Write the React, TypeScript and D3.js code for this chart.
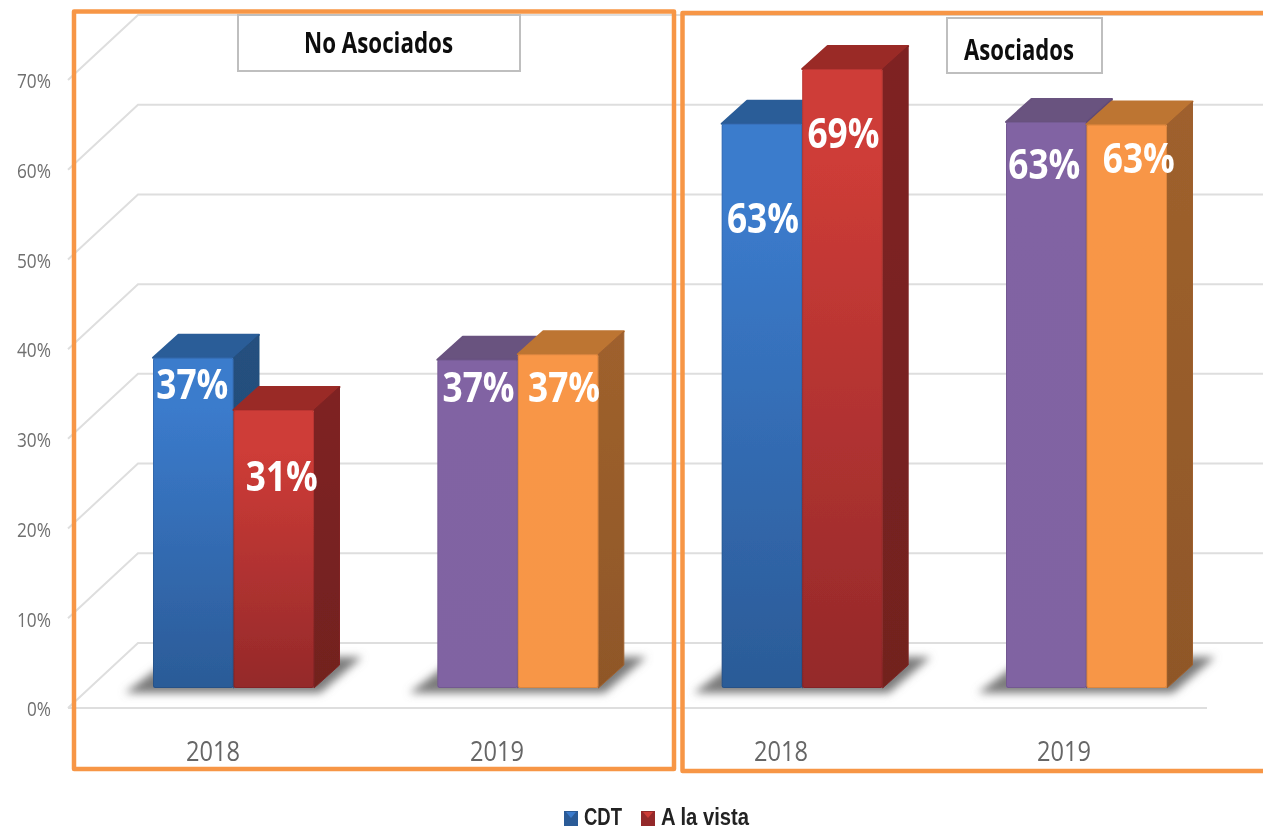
import React from "react";
import * as d3 from "d3";

const groups = ["No Asociados 2018", "No Asociados 2019", "Asociados 2018", "Asociados 2019"];
const yearLabels = ["2018", "2019", "2018", "2019"];
const seriesNames = ["CDT", "A la vista"];
const cdtValues = [36.8, 36.6, 62.9, 63.1];
const aLaVistaValues = [31, 37.2, 69, 62.8];
const cdtLabels = ["37%", "37%", "63%", "63%"];
const aLaVistaLabels = ["31%", "37%", "69%", "63%"];
const yTicks = [0, 10, 20, 30, 40, 50, 60, 70];
const panelTitles = ["No Asociados", "Asociados"];

// layout only
const FONT = "'Open Sans','Noto Sans',sans-serif";
const W = 1263, H = 831;
const y = d3.scaleLinear().domain([0, 70]).range([708, 80]);
const x = d3.scalePoint<string>().domain(groups).range([233.5, 1086.5]);
const inner = d3.scaleBand<string>().domain(seriesNames).range([-80.5, 80.5]);
const BAR_LIFT = 20, DX = 25.5, DY = 23;
const BACK_DX = 70, BACK_DY = 65;
const palette = [
  [{ top: "#2c5d98", side: "#25507f", a: "#3b7bcc", b: "#2b5b97", id: "b" }, { top: "#9a2b28", side: "#7f2422", a: "#ce3c37", b: "#94292a", id: "r" }],
  [{ top: "#69527f", side: "#5f4a75", a: "#8164a3", b: "#8064a2", id: "p" }, { top: "#bd7432", side: "#9f612d", a: "#f89646", b: "#f79646", id: "o" }],
];
const labelNudge = [
  [[-1, 28], [8, 68]],
  [[1, 29], [6, 35]],
  [[1, 96], [1, 66]],
  [[-2, 44], [12, 35]],
];
const yearCentres = [213, 497, 781, 1064];

function Fit(p: any) {
  const { len, children, ...rest } = p;
  return (
    <text textLength={len} lengthAdjust="spacingAndGlyphs" dominantBaseline="middle" fontFamily={FONT} {...rest}>
      {children}
    </text>
  );
}

export default function App() {
  return (
    <svg width={W} height={H} viewBox={`0 0 ${W} ${H}`} style={{ position: "absolute", left: 0, top: 0, background: "#fff" }}>
      <defs>
        <filter id="sh" x="-30%" y="-80%" width="160%" height="260%"><feGaussianBlur stdDeviation="4.5" /></filter>
        <filter id="soft" x="-5%" y="-20%" width="110%" height="140%"><feGaussianBlur stdDeviation="0.45" /></filter>
        <filter id="barSoft" x="-5%" y="-5%" width="110%" height="110%"><feGaussianBlur stdDeviation="0.6" /></filter>
        {palette.flat().map((c) => (
          <linearGradient key={c.id} id={"g" + c.id} x1="0" x2="0" y1="0" y2="1" gradientUnits="objectBoundingBox">
            <stop offset="0.15" stopColor={c.a} />
            <stop offset="1" stopColor={c.b} />
          </linearGradient>
        ))}
        {palette.flat().map((c) => (
          <linearGradient key={c.id} id={"s" + c.id} x1="0" x2="0" y1="0" y2="1">
            <stop offset="0" stopColor={c.side} />
            <stop offset="1" stopColor={d3.color(c.side)!.darker(0.3).formatHex()} />
          </linearGradient>
        ))}
      </defs>

      {/* grid */}
      <g fill="none" stroke="#dedede" strokeWidth={2}>
        {yTicks.map((t) => (
          <polyline key={t} points={`68,${y(t)} ${68 + BACK_DX},${y(t) - BACK_DY} ${W},${y(t) - BACK_DY}`} />
        ))}
        <line x1={68} x2={1207} y1={y(0)} y2={y(0)} />
      </g>

      {/* y labels */}
      <g filter="url(#soft)">
        {yTicks.map((t) => (
          <Fit key={t} x={t === 0 ? 27 : 17} y={y(t) + 3} len={t === 0 ? 24 : 34} fontSize={20} fill="#6f6f6f">{t}%</Fit>
        ))}
      </g>

      {/* bars */}
      {groups.map((g, gi) => {
        const cx = x(g)!;
        const bw = inner.bandwidth();
        const base = y(0) - BAR_LIFT;
        const L = cx - 80.5, R = cx + 80.5;
        const isAlt = gi % 2 === 1 ? 1 : 0;
        return (
          <g key={g}>
            <polygon points={`${L - 28},${base + 5} ${R + 6},${base + 5} ${R + 48},${base - 31} ${L + 20},${base - 31}`} fill="#7a7a7a" filter="url(#sh)" />
            <g filter="url(#barSoft)">
              {seriesNames.map((s, si) => {
                const v = (si === 0 ? cdtValues : aLaVistaValues)[gi];
                const c = palette[isAlt][si];
                const x0 = cx + inner(s)!;
                const x1 = x0 + bw;
                const top = y(v) - BAR_LIFT;
                return (
                  <g key={s}>
                    <polygon points={`${x0},${top} ${x0 + DX},${top - DY} ${x1 + DX},${top - DY} ${x1},${top}`} fill={c.top} stroke={c.top} strokeWidth={2} strokeLinejoin="round" />
                    <polygon points={`${x1},${top} ${x1 + DX},${top - DY} ${x1 + DX},${base - DY} ${x1},${base}`} fill={`url(#s${c.id})`} stroke={c.side} strokeWidth={1} strokeLinejoin="round" />
                    <rect x={x0} y={top} width={bw} height={base - top} fill={`url(#g${c.id})`} rx={2} />
                    <rect x={x0 + 0.5} y={top + 0.5} width={bw - 1} height={base - top - 1} fill="none" stroke="#000" strokeOpacity={0.1} rx={2} />
                  </g>
                );
              })}
            </g>
          </g>
        );
      })}

      {/* data labels */}
      <g filter="url(#soft)">
        {groups.map((g, gi) =>
          seriesNames.map((s, si) => {
            const v = (si === 0 ? cdtValues : aLaVistaValues)[gi];
            const lab = (si === 0 ? cdtLabels : aLaVistaLabels)[gi];
            const [dx, dy] = labelNudge[gi][si];
            const cxx = x(g)! + inner(s)! + inner.bandwidth() / 2 + dx;
            return (
              <Fit key={s} x={cxx - 36} y={y(v) - BAR_LIFT + dy + 2} len={72} fontSize={41} fontWeight={700} fill="#fff">{lab}</Fit>
            );
          })
        )}
      </g>

      {/* year labels */}
      <g filter="url(#soft)">
        {yearLabels.map((t, i) => (
          <Fit key={i} x={yearCentres[i] - 27} y={754} len={54} fontSize={28} fill="#666">{t}</Fit>
        ))}
      </g>

      {/* title boxes */}
      <rect x={238} y={15} width={282} height={56} fill="#fff" stroke="#bfbfbf" strokeWidth={2} />
      <rect x={947} y={18} width={155} height={55} fill="#fff" stroke="#bfbfbf" strokeWidth={2} />
      <g filter="url(#soft)">
        <Fit x={304} y={46} len={149} fontSize={28} fontWeight={700} fill="#111">{panelTitles[0]}</Fit>
        <Fit x={964} y={53} len={110} fontSize={28} fontWeight={700} fill="#111">{panelTitles[1]}</Fit>
      </g>

      {/* panel frames */}
      <g fill="none" stroke="#f79646" strokeWidth={4.5} strokeLinejoin="round">
        <rect x={74} y={11.5} width={600} height={757.5} />
        <path d={`M${W + 5},13 H682.5 V771 H${W + 5}`} />
      </g>

      {/* legend */}
      <g>
        {[564, 641].map((lx, i) => {
          const c = palette[0][i];
          return (
            <g key={i}>
              <rect x={lx} y={811} width={14} height={15} fill={c.b} />
              <polygon points={`${lx + 2},${812} ${lx + 12},${812} ${lx + 7},${818}`} fill={c.a} />
            </g>
          );
        })}
        <g filter="url(#soft)">
          <Fit x={584} y={819} len={38} fontSize={23} fontWeight={700} fill="#222" fontFamily="'Liberation Sans',sans-serif">{seriesNames[0]}</Fit>
          <Fit x={661} y={819} len={88} fontSize={23} fontWeight={700} fill="#222" fontFamily="'Liberation Sans',sans-serif">{seriesNames[1]}</Fit>
        </g>
      </g>
    </svg>
  );
}
